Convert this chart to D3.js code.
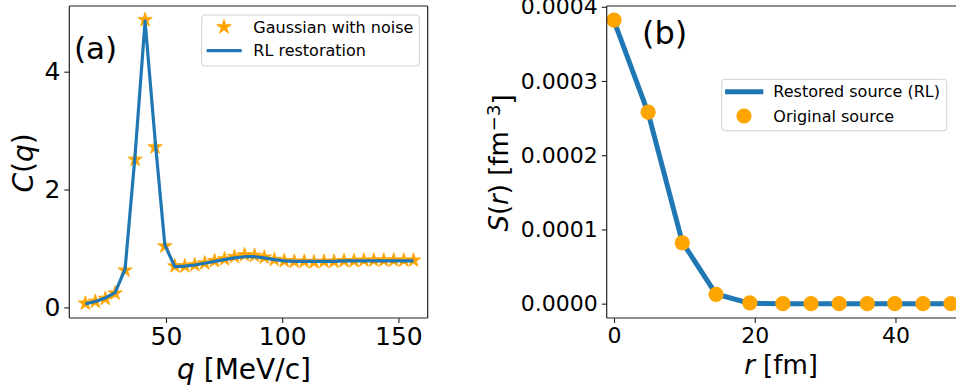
<!DOCTYPE html>
<html><head><meta charset="utf-8">
<script src="https://cdn.jsdelivr.net/npm/d3@7"></script>
<style>body{margin:0;background:#fff}svg{display:block}text{font-family:"DejaVu Sans",sans-serif;fill:#000}</style>
</head><body><svg id="c" width="956" height="392"></svg>
<script>
// Panel (a)
const qValues = [15.3,19.6,23.9,28.1,32.4,36.7,41.0,45.3,49.5,53.8,58.1,62.4,66.7,70.9,75.2,79.5,83.8,88.1,92.3,96.6,100.9,105.2,109.5,113.7,118.0,122.3,126.6,130.9,135.1,139.4,143.7,148.0,152.3,156.5];
const noisyC = [0.07,0.10,0.15,0.24,0.63,2.51,4.88,2.72,1.04,0.70,0.70,0.72,0.75,0.79,0.82,0.86,0.89,0.88,0.85,0.81,0.79,0.78,0.78,0.77,0.78,0.78,0.79,0.79,0.80,0.80,0.80,0.80,0.80,0.80];
const restoredC = [0.06,0.10,0.16,0.25,0.65,2.58,4.86,2.85,1.06,0.69,0.70,0.72,0.75,0.78,0.81,0.84,0.86,0.86,0.84,0.81,0.79,0.78,0.78,0.78,0.78,0.78,0.79,0.79,0.79,0.79,0.79,0.79,0.79,0.79];
const qTicks = [50,100,150];
const cTicks = [0,2,4];
// Panel (b)
const rValues = [0,4.85,9.7,14.5,19.3,24.0,28.0,32.0,36.0,39.9,43.9,47.9];
const restoredS = [0.000381,0.000257,0.000083,0.000013,0.0000005,0,0,0,0,0,0,0];
const originalS = [0.000382,0.000258,0.000082,0.0000126,0.000001,0,0,0,0,0,0,0];
const rTicks = [0,20,40];
const sTicks = [0,0.0001,0.0002,0.0003,0.0004];

const blue = "#1f77b4", orange = "#ffa500";
const svg = d3.select("#c");

function starPath(R){
  const r = R*0.381966; let p = [];
  for(let i=0;i<10;i++){const a = -Math.PI/2 + i*Math.PI/5; const rr = i%2?r:R; p.push([rr*Math.cos(a), rr*Math.sin(a)]);}
  return "M"+p.map(d=>d[0].toFixed(2)+","+d[1].toFixed(2)).join("L")+"Z";
}
const star = starPath(7.6);

function frame(g, x, y, box, opts){
  // axes
  const xa = d3.axisBottom(x).tickValues(opts.xt).tickSize(5).tickPadding(4).tickFormat(opts.xf||d3.format("d"));
  const ya = d3.axisLeft(y).tickValues(opts.yt).tickSize(5).tickPadding(4).tickFormat(opts.yf||d3.format("d"));
  const gx = g.append("g").attr("transform",`translate(0,${box.b})`).call(xa);
  const gy = g.append("g").attr("transform",`translate(${box.l},0)`).call(ya);
  [gx,gy].forEach(a=>{a.select(".domain").remove(); a.selectAll("line").attr("stroke","#222").attr("stroke-width",1.1);
    a.selectAll("text").style("font-family","DejaVu Sans").style("font-size",opts.fs+"px").attr("fill","#000");});
  gx.selectAll("text").attr("dy",null).attr("y",opts.xty).attr("dominant-baseline","auto");
}
function spines(g, box, sides){
  const s = {top:[box.l,box.t,box.r,box.t],bottom:[box.l,box.b,box.r,box.b],left:[box.l,box.t,box.l,box.b],right:[box.r,box.t,box.r,box.b]};
  sides.forEach(k=>g.append("line").attr("x1",s[k][0]).attr("y1",s[k][1]).attr("x2",s[k][2]).attr("y2",s[k][3]).attr("stroke","#222").attr("stroke-width",1.2));
}

// ---------- Panel (a)
{
  const box = {l:69.3, r:427.7, t:6, b:318};
  const x = d3.scaleLinear().domain([8.4,162.6]).range([box.l,box.r]);
  const y = d3.scaleLinear().domain([-0.18,5.115]).range([box.b,box.t]);
  const g = svg.append("g");
  const clip = g.append("clipPath").attr("id","ca").append("rect").attr("x",box.l).attr("y",box.t).attr("width",box.r-box.l).attr("height",box.b-box.t);
  const pg = g.append("g").attr("clip-path","url(#ca)");
  pg.selectAll("path.s").data(qValues).join("path").attr("class","s").attr("d",star)
    .attr("transform",(d,i)=>`translate(${x(d)},${y(noisyC[i])})`).attr("fill",orange).attr("stroke",orange).attr("stroke-width",0.8);
  pg.append("path").datum(qValues).attr("d",d3.line().x(d=>x(d)).y((d,i)=>y(restoredC[i])))
    .attr("fill","none").attr("stroke",blue).attr("stroke-width",3.2).attr("stroke-linejoin","round");
  frame(g,x,y,box,{xt:qTicks,yt:cTicks,fs:25,xty:27});
  spines(g,box,["top","bottom","left","right"]);
  g.append("text").attr("x",74).attr("y",59).style("font-size","31px").text("(a)");
  // legend
  g.append("rect").attr("x",201.7).attr("y",15).attr("width",217.6).attr("height",51).attr("rx",3)
    .attr("fill","#fff").attr("fill-opacity",0.8).attr("stroke","#d0d0d0").attr("stroke-width",1);
  g.append("path").attr("d",star).attr("transform","translate(224,27)").attr("fill",orange).attr("stroke",orange).attr("stroke-width",0.8);
  g.append("text").attr("x",253.3).attr("y",27).attr("dy","0.36em").style("font-size","16px").text("Gaussian with noise");
  g.append("line").attr("x1",206.7).attr("x2",241.7).attr("y1",50.7).attr("y2",50.7).attr("stroke",blue).attr("stroke-width",3.2);
  g.append("text").attr("x",253.3).attr("y",50.7).attr("dy","0.36em").style("font-size","16px").text("RL restoration");
  // axis labels
  const xl = g.append("text").attr("x",244).attr("y",379).attr("text-anchor","middle").style("font-size","28px");
  xl.append("tspan").style("font-style","italic").text("q");
  xl.append("tspan").text(" [MeV/c]");
  const yl = g.append("text").attr("transform","translate(33,163) rotate(-90)").attr("text-anchor","middle").style("font-size","28px");
  yl.append("tspan").style("font-style","italic").text("C");
  yl.append("tspan").text("(");
  yl.append("tspan").style("font-style","italic").text("q");
  yl.append("tspan").text(")");
}

// ---------- Panel (b)
{
  const box = {l:606.7, r:960, t:6, b:318};
  const x = d3.scaleLinear().domain([-1.04,48.6]).range([606.7,956]);
  const y = d3.scaleLinear().domain([-0.0000193,0.000401]).range([box.b,box.t]);
  const g = svg.append("g");
  g.append("clipPath").attr("id","cb").append("rect").attr("x",box.l).attr("y",box.t-10).attr("width",box.r-box.l).attr("height",box.b-box.t+10);
  const pg = g.append("g").attr("clip-path","url(#cb)");
  pg.append("path").datum(rValues).attr("d",d3.line().x(d=>x(d)).y((d,i)=>y(restoredS[i])))
    .attr("fill","none").attr("stroke",blue).attr("stroke-width",5).attr("stroke-linejoin","round");
  pg.selectAll("circle").data(rValues).join("circle").attr("cx",d=>x(d)).attr("cy",(d,i)=>y(originalS[i])).attr("r",7.6).attr("fill",orange);
  frame(g,x,y,box,{xt:rTicks,yt:sTicks,fs:22,xty:25,yf:d3.format(".4f")});
  spines(g,box,["top","bottom","left"]);
  g.append("text").attr("x",642).attr("y",44).style("font-size","32px").text("(b)");
  // legend
  g.append("rect").attr("x",721.7).attr("y",79.3).attr("width",225).attr("height",51.4).attr("rx",3)
    .attr("fill","#fff").attr("fill-opacity",0.8).attr("stroke","#d0d0d0").attr("stroke-width",1);
  g.append("line").attr("x1",725).attr("x2",763.3).attr("y1",91.7).attr("y2",91.7).attr("stroke",blue).attr("stroke-width",5);
  g.append("text").attr("x",773.3).attr("y",91.7).attr("dy","0.36em").style("font-size","16px").text("Restored source (RL)");
  g.append("circle").attr("cx",744).attr("cy",116).attr("r",7.6).attr("fill",orange);
  g.append("text").attr("x",773.3).attr("y",116).attr("dy","0.36em").style("font-size","16px").text("Original source");
  // axis labels
  const xl = g.append("text").attr("x",781).attr("y",374).attr("text-anchor","middle").style("font-size","26px");
  xl.append("tspan").style("font-style","italic").text("r");
  xl.append("tspan").text(" [fm]");
  const yl = g.append("text").attr("transform","translate(508,163) rotate(-90)").attr("text-anchor","middle").style("font-size","26px");
  yl.append("tspan").style("font-style","italic").text("S");
  yl.append("tspan").text("(");
  yl.append("tspan").style("font-style","italic").text("r");
  yl.append("tspan").text(") [fm");
  yl.append("tspan").attr("dy","-0.45em").style("font-size","18px").text("\u22123");
  yl.append("tspan").attr("dy","0.45em").text("]");
}
</script></body></html>
